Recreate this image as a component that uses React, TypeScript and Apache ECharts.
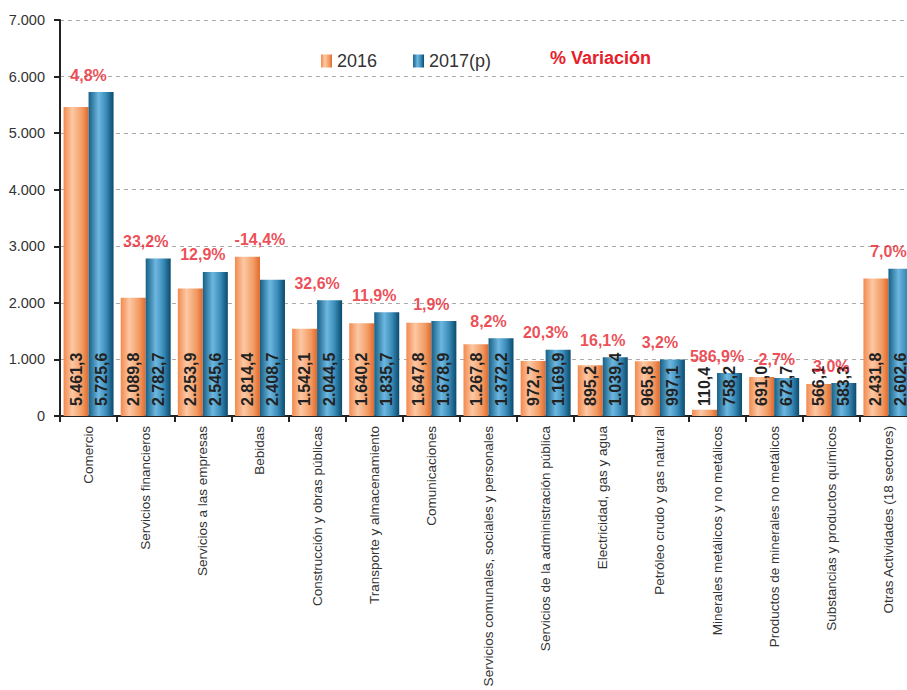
import React, { useEffect, useRef } from "react";
import * as echarts from "echarts";

const categories = [
  "Comercio",
  "Servicios financieros",
  "Servicios a las empresas",
  "Bebidas",
  "Construcción y obras públicas",
  "Transporte y almacenamiento",
  "Comunicaciones",
  "Servicios comunales, sociales y personales",
  "Servicios de la administración pública",
  "Electricidad, gas y agua",
  "Petróleo crudo y gas natural",
  "Minerales metálicos y no metálicos",
  "Productos de minerales no metálicos",
  "Substancias y productos químicos",
  "Otras Actividades (18 sectores)",
];

const values2016 = [5461.3, 2089.8, 2253.9, 2814.4, 1542.1, 1640.2, 1647.8, 1267.8, 972.7, 895.2, 965.8, 110.4, 691.0, 566.1, 2431.8];
const values2017 = [5725.6, 2782.7, 2545.6, 2408.7, 2044.5, 1835.7, 1678.9, 1372.2, 1169.9, 1039.4, 997.1, 758.2, 672.7, 583.3, 2602.6];
const variation = [4.8, 33.2, 12.9, -14.4, 32.6, 11.9, 1.9, 8.2, 20.3, 16.1, 3.2, 586.9, -2.7, 3.0, 7.0];

const yTicks = { min: 0, max: 7000, interval: 1000 };

const FONT = "'Liberation Sans', Arial, sans-serif";

function fmtThousands(intPart: number): string {
  const s = String(Math.abs(intPart));
  let out = "";
  for (let i = 0; i < s.length; i++) {
    if (i > 0 && (s.length - i) % 3 === 0) out += ".";
    out += s[i];
  }
  return (intPart < 0 ? "-" : "") + out;
}

function fmtDec(v: number): string {
  const neg = v < 0;
  const a = Math.abs(v);
  const r = Math.round(a * 10);
  const ip = Math.floor(r / 10);
  const dp = r % 10;
  return (neg ? "-" : "") + fmtThousands(ip) + "," + dp;
}

export default function App() {
  const ref = useRef<HTMLDivElement>(null);

  useEffect(() => {
    if (!ref.current) return;
    const chart = echarts.init(ref.current, null, { renderer: "svg" });

    const orange = new echarts.graphic.LinearGradient(0, 0, 1, 0, [
      { offset: 0, color: "#F28A4E" },
      { offset: 0.35, color: "#FCC8A4" },
      { offset: 0.75, color: "#F29A62" },
      { offset: 1, color: "#E0692C" },
    ]);
    const blue = new echarts.graphic.LinearGradient(0, 0, 1, 0, [
      { offset: 0, color: "#165F86" },
      { offset: 0.4, color: "#6DB7E0" },
      { offset: 0.7, color: "#3B8DBA" },
      { offset: 1, color: "#0A4A6C" },
    ]);

    const barLabel = {
      show: true,
      position: "insideBottom" as const,
      rotate: 90,
      align: "left" as const,
      verticalAlign: "middle" as const,
      distance: 10,
      fontFamily: FONT,
      fontSize: 16,
      fontWeight: "bold" as const,
      color: "#222",
      formatter: (p: any) => fmtDec(p.value),
    };

    const maxes = values2016.map((v, i) => Math.max(v, values2017[i]));

    chart.setOption({
      animation: false,
      backgroundColor: "#fff",
      grid: { left: 60, top: 20, width: 857, height: 396, containLabel: false, outerBoundsMode: "none" },
      legend: {
        data: ["2016", "2017(p)"],
        left: 316,
        top: 47,
        icon: "rect",
        itemWidth: 11,
        itemHeight: 13,
        itemGap: 36,
        itemStyle: { borderWidth: 0 },
        textStyle: { fontFamily: FONT, fontSize: 18, color: "#333" },
      },
      graphic: [
        {
          type: "text",
          left: 550,
          top: 49,
          style: {
            text: "% Variación",
            fontFamily: FONT,
            fontSize: 18,
            fontWeight: "bold",
            fill: "#E8202A",
          },
        },
      ],
      xAxis: {
        type: "category",
        data: categories,
        axisLine: { lineStyle: { color: "#222", width: 2 } },
        axisTick: { show: true, length: 6, lineStyle: { color: "#222", width: 2 } },
        axisLabel: {
          rotate: 90,
          interval: 0,
          margin: 10,
          fontFamily: FONT,
          fontSize: 13.5,
          color: "#333",
        },
      },
      yAxis: {
        type: "value",
        min: yTicks.min,
        max: yTicks.max,
        interval: yTicks.interval,
        axisLine: { show: true, lineStyle: { color: "#222", width: 2 } },
        axisTick: { show: true, length: 6, lineStyle: { color: "#222", width: 2 } },
        axisLabel: {
          margin: 15,
          fontFamily: FONT,
          fontSize: 14.5,
          color: "#333",
          formatter: (v: number) => fmtThousands(v),
        },
        splitLine: { show: true, lineStyle: { color: "#aaa", type: [4, 4], width: 1 } },
      },
      series: [
        {
          name: "2016",
          type: "bar",
          data: values2016,
          barWidth: 25,
          barGap: "0%",
          itemStyle: { color: orange },
          label: barLabel,
        },
        {
          name: "2017(p)",
          type: "bar",
          data: values2017,
          barWidth: 25,
          barGap: "0%",
          itemStyle: { color: blue },
          label: barLabel,
        },
        {
          name: "pct",
          type: "scatter",
          data: maxes,
          symbolSize: 0,
          itemStyle: { color: "rgba(0,0,0,0)" },
          label: {
            show: true,
            position: "top",
            distance: 9,
            fontFamily: FONT,
            fontSize: 16,
            fontWeight: "bold",
            color: "#E8202A",
            formatter: (p: any) => fmtDec(variation[p.dataIndex]) + "%",
          },
          z: 5,
        },
      ],
    });

    return () => chart.dispose();
  }, []);

  return <div ref={ref} style={{ position: "absolute", left: 0, top: 0, width: 907, height: 690 }} />;
}
